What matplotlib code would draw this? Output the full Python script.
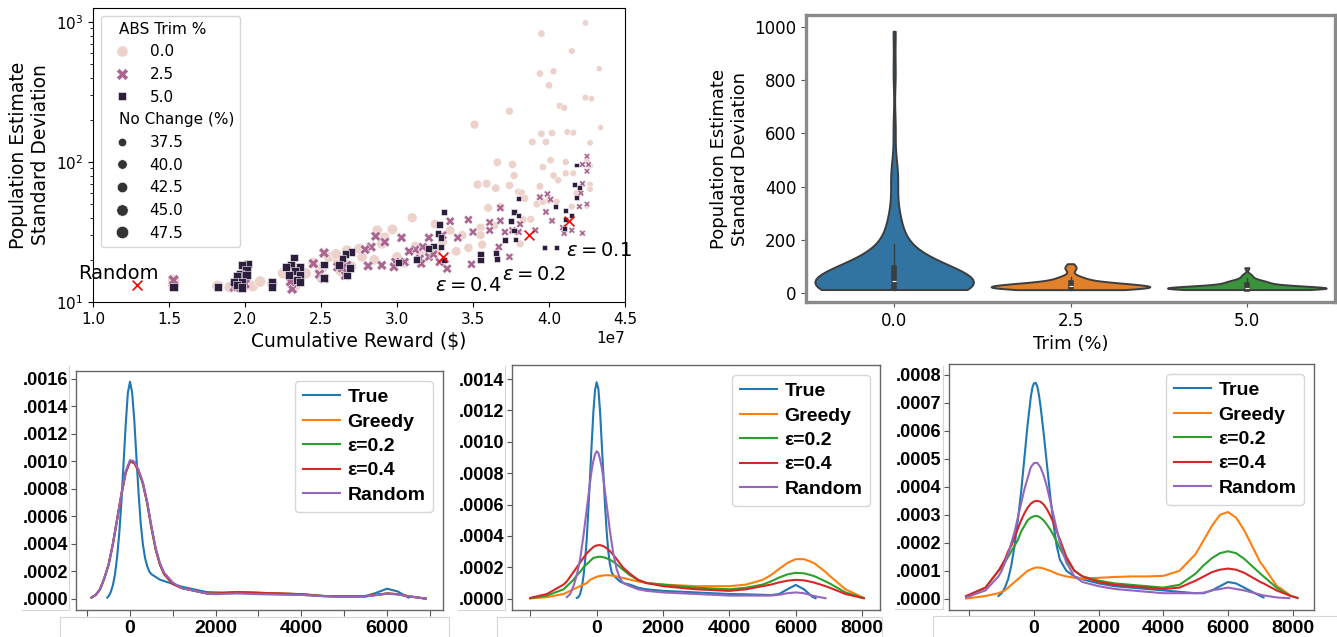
import numpy as np
import pandas as pd
import matplotlib
matplotlib.use("Agg")
import matplotlib.pyplot as plt
from matplotlib.lines import Line2D
from matplotlib.ticker import FuncFormatter, FixedLocator
from matplotlib.font_manager import FontProperties
import seaborn as sns

nan = float("nan")
W, H = 1337, 637

# ---------------- scatter data (reward in units of 1e7 $) ----------------
trim0_reward = [4.24, 3.95, 4.15, 3.94, 4.03, 4.00, 4.33, 4.24, 4.28, 3.74, 4.07, 4.10, 4.34, 3.51, 3.95, 4.02, 4.12, 4.16,
                3.89, 3.98, 4.27, 3.66, 3.76, 4.01, 4.11, 3.96, 4.25, 4.27, 3.77, 4.03, 4.11, 4.16, 4.06, 3.53, 3.59, 3.74,
                3.94, 4.27, 3.65, 4.27, 3.80, 3.82, 3.84, 4.18, 3.92, 3.96, 4.00, 4.05, 4.15, 4.25, 3.60, 3.68, 3.83, 3.88,
                3.10, 3.25, 3.64, 3.55, 2.87, 2.97, 3.35, 3.43, 3.55, 2.92, 3.81, 3.47, 3.39, 3.26, 3.56, 2.67, 2.77, 2.61,
                2.51, 2.63, 1.53, 1.53, 1.95, 2.00, 2.30, 2.35, 2.05, 1.82, 2.18, 2.45, 2.55, 2.65, 2.33, 1.97, 3.05, 3.15,
                2.85, 3.20, 2.75, 3.30, 2.70, 2.90, 3.00, 3.12, 2.60, 2.40, 2.10, 2.25, 1.90, 2.50]
trim0_std = [984, 826, 621, 428, 444, 353, 464, 288, 283, 231, 252, 244, 176, 185, 159, 161, 164, 162,
             139, 139, 137, 99.5, 96, 103, 100, 92, 104, 94, 80, 80, 83, 83, 74, 69, 70, 68,
             67, 69, 65, 64, 61, 60, 55, 60, 50, 52, 53, 52, 48, 48.5, 47, 48, 38.7, 39,
             40, 36, 35, 34, 32.5, 33, 32.5, 30, 30, 29, 26, 24.4, 23, 22.8, 25.7, 23.4, 21, 19.6,
             17.6, 16.6, 13.2, 14.3, 14, 16, 15, 17, 13, 13, 13.5, 19, 21, 19, 13, 15, 19, 22,
             20, 24, 24, 27, 18, 26, 21, 25, 22, 16, 14, 16, 12.8, 15]
trim0_nochange = [37.5, 39.0, 38.0, 39.0, 38.5, 39.0, 37.0, 38.0, 37.5, 40.0, 38.5, 38.5, 36.8, 42.0, 39.0, 39.0, 38.0, 38.0,
                  39.5, 39.0, 37.5, 41.0, 40.5, 39.0, 38.5, 39.0, 37.5, 37.5, 40.0, 39.0, 38.5, 38.0, 38.5, 42.0, 41.5, 40.5,
                  39.5, 37.5, 41.0, 37.5, 40.0, 40.0, 40.0, 38.0, 39.5, 39.0, 39.0, 38.5, 38.0, 37.5, 41.5, 41.0, 40.0, 40.0,
                  44.0, 43.0, 41.0, 42.0, 45.5, 45.5, 43.0, 42.5, 42.0, 45.0, 40.0, 42.5, 43.0, 43.5, 42.0, 46.0, 45.5, 46.0,
                  46.5, 46.0, 48.9, 48.5, 48.0, 48.0, 47.0, 47.0, 48.0, 48.5, 47.5, 46.5, 46.0, 46.0, 47.0, 48.0, 44.5, 44.0,
                  45.5, 44.0, 45.5, 43.5, 46.0, 45.0, 45.0, 44.0, 46.0, 47.0, 47.5, 47.0, 48.0, 46.5]

trim25_reward = [4.25, 4.22, 4.26, 4.22, 4.25, 3.94, 3.99, 4.01, 4.21, 4.20, 4.25, 3.98, 3.68, 3.61, 3.68, 3.47, 3.35, 3.81,
                 3.91, 3.76, 3.71, 3.80, 3.61, 3.50, 3.30, 3.21, 3.40, 4.10, 4.22, 4.15, 3.67, 3.74, 3.49, 3.33, 3.17, 3.12,
                 3.08, 3.15, 3.21, 3.24, 3.16, 3.28, 2.99, 3.05, 2.98, 2.90, 2.81, 3.03, 2.86, 2.83, 2.79, 2.92, 2.52, 2.67,
                 2.61, 2.66, 2.64, 2.45, 2.49, 2.52, 2.31, 1.93, 1.53, 4.09, 4.02, 2.00, 2.30, 1.95]
trim25_std = [110, 96, 96, 70, 86, 56, 59, 54, 60, 48, 50, 44, 47, 37, 38, 38.7, 37.7, 36,
              32.5, 32.5, 31.6, 31.6, 32.5, 31.6, 30, 28.8, 28.8, 31, 31, 32.5, 24.7, 21, 18.6, 17.3, 24.7, 23.7,
              23, 20.4, 21, 21.9, 18.8, 19.3, 19.3, 19.3, 17.8, 18.3, 18.1, 28.8, 29.5, 24.7, 23.7, 26.8, 22.4, 18.3,
              17.8, 15.5, 17.5, 18.8, 15.8, 14.7, 12.4, 12.8, 14.3, 34, 38, 13.5, 14, 13]
trim25_nochange = [37.5, 38, 37.5, 38, 37.5, 39.5, 39, 39, 38, 38, 37.5, 39, 41, 41.5, 41, 42.5, 43, 40,
                   39.5, 40.5, 40.5, 40, 41.5, 42, 43.5, 44, 43, 38.5, 38, 38, 41, 40.5, 42.5, 43.5, 44, 44,
                   44.5, 44, 44, 43.5, 44, 43.5, 45, 44.5, 45, 45, 45.5, 44.5, 45.5, 45.5, 45.5, 45, 46.5, 46,
                   46, 46, 46, 46.5, 46.5, 46.5, 47, 48, 48.5, 38.5, 39, 48, 47, 48]

trim5_reward = [4.18, 4.17, 4.20, 4.18, 3.80, 4.04, 4.11, 3.77, 3.31, 3.80, 3.75, 4.11, 4.15, 3.77, 3.71, 3.78, 3.28, 3.27,
                3.29, 3.24, 3.29, 3.97, 4.05, 4.10, 3.65, 3.55, 3.66, 3.55, 3.21, 3.13, 3.31, 3.01, 2.70, 2.66, 2.64, 2.62,
                2.69, 2.67, 2.52, 2.52, 2.32, 2.30, 2.36, 2.27, 2.33, 2.29, 2.36, 2.34, 2.36, 2.18, 2.18, 2.02, 1.98, 2.01,
                1.97, 2.01, 1.95, 1.93, 1.98, 1.95, 1.98, 1.82, 1.53]
trim5_std = [95, 69, 66, 56, 55, 48, 45, 44, 44, 41.6, 38, 39, 41.6, 32.5, 27.6, 28, 36, 31,
             29, 25.1, 24.7, 24.4, 24.4, 33.4, 22.5, 22.1, 20.4, 20, 24, 20, 19.9, 19.1, 22.8, 22.1, 20.4, 18.3,
             17.5, 15.5, 18.5, 14.8, 20.8, 18.3, 17.8, 17.8, 16.6, 15.5, 15.5, 14.4, 13.9, 13.9, 12.7, 18.6, 18.3, 17,
             15.8, 15.5, 15.2, 13.9, 13.9, 13.2, 12.7, 12.8, 12.8]
trim5_nochange = [38, 38, 38, 38, 40, 38.5, 38.5, 40, 43, 40, 40.5, 38.5, 38, 40, 40.5, 40, 43.5, 43.5,
                  43.5, 43.5, 43.5, 39, 38.5, 38.5, 41, 42, 41, 42, 44, 44, 43, 45, 46, 46, 46, 46,
                  46, 46, 46.5, 46.5, 47, 47, 47, 47, 47, 47, 47, 47, 47, 47.5, 47.5, 48, 48, 48,
                  48, 48, 48, 48, 48, 48, 48, 48.5, 48.5]

trim_levels = [0.0, 2.5, 5.0]

# policy markers
policy_names = ["Random", r"$\varepsilon = 0.4$", r"$\varepsilon = 0.2$", r"$\varepsilon = 0.1$"]
policy_reward = [1.29, 3.30, 3.87, 4.13]
policy_std = [13.2, 21.0, 30.1, 37.9]
label_reward = [0.905, 3.25, 3.69, 4.11]
label_std = [16.1, 13.2, 15.6, 23.5]

# ---------------- KDE curves ----------------
series_names = ["True", "Greedy", "ε=0.2", "ε=0.4", "Random"]
series_colors = ["#1f77b4", "#ff7f0e", "#2ca02c", "#d62728", "#9467bd"]

# panel 1
p1_true_x = [-530, -500, -450, -400, -350, -300, -250, -200, -150, -100, -50, 0, 50, 100, 150, 200, 250, 300, 350, 400,
             450, 500, 600, 700, 800, 1000, 1200, 1500, 1800, 2000, 2500, 3000, 3500, 4000, 4500, 5000, 5500, 5750,
             6000, 6250, 6500]
p1_true = [0.00001, 0.00002, 0.00005, 0.0001, 0.00018, 0.00031, 0.00048, 0.00071, 0.00099, 0.00127, 0.0015, 0.00158,
           0.0015, 0.0013, 0.00103, 0.00077, 0.00055, 0.0004, 0.0003, 0.00024, 0.0002, 0.00018, 0.00016, 0.00014,
           0.00013, 0.00011, 0.00009, 0.00007, 0.00005, 0.000048, 0.000045, 0.00004, 0.000035, 0.00003, 0.000022,
           0.000018, 0.000022, 0.000045, 0.000075, 0.000055, 0.00001]
g1_x = [-900, -800, -700, -600, -500, -400, -300, -200, -100, 0, 100, 200, 300, 400, 500, 600, 700, 800, 1000, 1200,
        1500, 1800, 2000, 2500, 3000, 3500, 4000, 4500, 5000, 5500, 5750, 6000, 6250, 6500, 6900]
p1_greedy = [0.00001, 0.00003, 0.00007, 0.00015, 0.00025, 0.0004, 0.00058, 0.00076, 0.00092, 0.001, 0.00099, 0.00093,
             0.00084, 0.0007, 0.00052, 0.00036, 0.00025, 0.00018, 0.00011, 0.00008, 0.00006, 0.00004, 0.00004, 0.00005,
             0.000045, 0.00004, 0.000035, 0.000022, 0.000018, 0.00002, 0.00003, 0.00004, 0.000035, 0.00002, 0.000003]
p1_eps02 = [0.00001, 0.00003, 0.00007, 0.00015, 0.00025, 0.0004, 0.00058, 0.00076, 0.00092, 0.001, 0.00099, 0.00093,
            0.00084, 0.0007, 0.00052, 0.00036, 0.00025, 0.00018, 0.00011, 0.00008, 0.00006, 0.00004, 0.00004, 0.00005,
            0.000045, 0.00004, 0.000035, 0.000022, 0.000018, 0.00002, 0.00003, 0.00004, 0.000035, 0.00002, 0.000003]
p1_eps04 = [0.00001, 0.00003, 0.00007, 0.00015, 0.00025, 0.0004, 0.00058, 0.00076, 0.00092, 0.001, 0.00099, 0.00093,
            0.00084, 0.0007, 0.00052, 0.00036, 0.00025, 0.00018, 0.00011, 0.00008, 0.00006, 0.00004, 0.00004, 0.00005,
            0.000045, 0.00004, 0.000035, 0.000022, 0.000018, 0.00002, 0.00003, 0.00004, 0.000035, 0.00002, 0.000003]
p1_random = [0.00001, 0.00003, 0.00007, 0.00015, 0.00025, 0.0004, 0.00058, 0.00077, 0.00093, 0.00101, 0.001, 0.00094,
             0.00085, 0.00071, 0.00053, 0.00037, 0.00026, 0.00019, 0.00012, 0.00008, 0.00006, 0.00004, 0.000035, 0.00004,
             0.000035, 0.000032, 0.00003, 0.00002, 0.000015, 0.000018, 0.000028, 0.000038, 0.000033, 0.00002, 0.000003]

# panel 2
p2_true_x = [-600, -550, -500, -450, -400, -350, -300, -250, -200, -150, -100, -50, 0, 50, 100, 150, 200, 250, 300,
             350, 400, 450, 500, 600, 700, 800, 1000, 1250, 1500, 2000, 2500, 3000, 3500, 4000, 4500, 5000, 5250, 5500,
             5750, 6000, 6250, 6500, 6600]
p2_true = [0.000005, 0.00001, 0.00003, 0.00007, 0.00014, 0.00024, 0.00038, 0.00057, 0.00078, 0.00099, 0.00119, 0.00133,
           0.00138, 0.00134, 0.0012, 0.001, 0.0008, 0.0006, 0.00043, 0.0003, 0.00022, 0.00017, 0.00015, 0.00013,
           0.00011, 0.0001, 0.00009, 0.00007, 0.00006, 0.00005, 0.000045, 0.00004, 0.000035, 0.00003, 0.000028,
           0.000025, 0.000023, 0.00003, 0.00006, 0.000088, 0.00006, 0.000012, 0.000003]
p2_random_x = [-900, -800, -700, -600, -500, -400, -300, -200, -150, -100, -50, 0, 50, 100, 150, 200, 300, 400, 500,
               600, 700, 800, 1000, 1250, 1500, 2000, 2500, 3000, 3500, 4000, 4500, 5000, 5250, 5500, 5750, 6000, 6250,
               6500, 6600, 6900]
p2_random = [0.00001, 0.00003, 0.00008, 0.00015, 0.00025, 0.0004, 0.00057, 0.00074, 0.00082, 0.00088, 0.00092,
             0.00094, 0.00093, 0.00089, 0.00084, 0.00077, 0.0006, 0.00043, 0.00029, 0.00019, 0.00013, 0.0001, 0.00008,
             0.00006, 0.00005, 0.00004, 0.000035, 0.00003, 0.000025, 0.00002, 0.00002, 0.00002, 0.00002, 0.000025,
             0.000035, 0.00004, 0.000035, 0.00002, 0.000015, 0.000003]
g2_x = [-2000, -1500, -1000, -900, -800, -700, -600, -500, -400, -300, -200, -100, 0, 100, 200, 300, 400, 500, 600, 700,
        800, 1000, 1250, 1500, 2000, 2500, 3000, 3500, 4000, 4500, 5000, 5250, 5500, 5750, 6000, 6250, 6500, 6600, 6900,
        7000, 7500, 8050]
p2_greedy = [0.000002, 0.00001, 0.00003, 0.00004, 0.00005, 0.00006, 0.00007, 0.00008, 0.00009, 0.0001, 0.00012, 0.00013,
             0.00014, 0.000145, 0.000148, 0.00015, 0.000149, 0.000146, 0.000142, 0.000137, 0.000132, 0.000122, 0.00011,
             0.0001, 0.00009, 0.000085, 0.00008, 0.00008, 0.00008, 0.00009, 0.00012, 0.00015, 0.00019, 0.000228,
             0.000252, 0.000252, 0.000232, 0.00022, 0.00017, 0.00015, 0.00006, 0.000005]
p2_eps02 = [0.000003, 0.00002, 0.00006, 0.00008, 0.0001, 0.00012, 0.00015, 0.00017, 0.0002, 0.00022, 0.00024, 0.00026,
            0.000265, 0.000268, 0.000265, 0.000258, 0.000248, 0.000236, 0.00022, 0.000202, 0.000184, 0.00015, 0.00012,
            0.0001, 0.00009, 0.00008, 0.00007, 0.000065, 0.00006, 0.00007, 0.00009, 0.00011, 0.000135, 0.000155,
            0.000165, 0.000162, 0.000148, 0.00014, 0.00011, 0.0001, 0.00004, 0.000004]
p2_eps04 = [0.000005, 0.00003, 0.00009, 0.00011, 0.00014, 0.00017, 0.0002, 0.00023, 0.00026, 0.00029, 0.00031, 0.00033,
            0.00034, 0.000342, 0.000335, 0.000322, 0.000303, 0.00028, 0.000253, 0.000225, 0.000198, 0.00016, 0.00012,
            0.0001, 0.00008, 0.00007, 0.00006, 0.000055, 0.00005, 0.00006, 0.00008, 0.00009, 0.000104, 0.000115,
            0.00012, 0.000117, 0.000106, 0.0001, 0.00008, 0.000072, 0.00003, 0.000003]

# panel 3
p3_true_x = [-1100, -1000, -900, -800, -700, -600, -500, -400, -300, -200, -100, -50, 0, 50, 100, 150, 200, 300, 400,
             500, 600, 700, 800, 900, 1000, 1250, 1500, 2000, 2500, 3000, 3500, 4000, 4500, 5000, 5250, 5500, 5750,
             6000, 6250, 6500, 7000, 7100]
p3_true = [0.00001, 0.00002, 0.00004, 0.00007, 0.00012, 0.00019, 0.00028, 0.00038, 0.0005, 0.00062, 0.00072, 0.000755,
           0.00077, 0.000772, 0.00076, 0.00073, 0.00069, 0.00059, 0.00048, 0.00037, 0.00027, 0.00019, 0.00014, 0.00012,
           0.0001, 0.00008, 0.00007, 0.000055, 0.000045, 0.00004, 0.000035, 0.00003, 0.000025, 0.00002, 0.00002,
           0.00003, 0.000045, 0.00006, 0.000055, 0.00004, 0.00001, 0.000005]
g3_x = [-2100, -1500, -1100, -1000, -900, -800, -700, -600, -500, -400, -300, -200, -100, 0, 100, 200, 300, 400, 500,
        600, 700, 800, 1000, 1250, 1500, 2000, 2500, 3000, 3500, 4000, 4500, 5000, 5250, 5500, 5750, 6000, 6250, 6500,
        7000, 7100, 7500, 7900, 8150]
p3_greedy = [0.000001, 0.00001, 0.00002, 0.000025, 0.00003, 0.00004, 0.00005, 0.00006, 0.00007, 0.00008, 0.00009,
             0.0001, 0.000105, 0.00011, 0.000112, 0.000111, 0.000108, 0.000104, 0.0001, 0.000095, 0.00009, 0.000086,
             0.00008, 0.000075, 0.000072, 0.000075, 0.000078, 0.00008, 0.00008, 0.000082, 0.0001, 0.00016, 0.00021,
             0.00026, 0.0003, 0.00031, 0.00029, 0.000245, 0.00013, 0.000115, 0.000047, 0.000015, nan]
p3_eps02 = [0.000008, 0.00004, 0.0001, 0.00011, 0.00013, 0.00015, 0.00017, 0.00019, 0.00021, 0.00024, 0.00026, 0.00028,
            0.00029, 0.000295, 0.000296, 0.00029, 0.00028, 0.000265, 0.000248, 0.000228, 0.000205, 0.00018, 0.00014,
            0.0001, 0.00008, 0.000065, 0.000055, 0.00005, 0.000045, 0.00004, 0.00005, 0.00009, 0.00012, 0.000145,
            0.000163, 0.00017, 0.000163, 0.000143, 0.00009, 0.00008, 0.00004, 0.000012, 0.000003]
p3_eps04 = [0.00001, 0.00004, 0.0001, 0.00012, 0.00014, 0.00017, 0.00019, 0.00022, 0.00025, 0.00028, 0.000305, 0.000325,
            0.00034, 0.000348, 0.00035, 0.000347, 0.000337, 0.00032, 0.000298, 0.000272, 0.000243, 0.000212, 0.00015,
            0.0001, 0.00008, 0.00006, 0.00005, 0.000045, 0.00004, 0.000035, 0.00004, 0.000065, 0.00008, 0.000095,
            0.000104, 0.000108, 0.000104, 0.000093, 0.00006, 0.000055, 0.00003, 0.000012, 0.000003]
p3_random = [0.000005, 0.00003, 0.00008, 0.0001, 0.00013, 0.00016, 0.0002, 0.00024, 0.00029, 0.00034, 0.00039, 0.00043,
             0.00047, 0.000485, 0.000486, 0.00047, 0.00044, 0.0004, 0.00035, 0.0003, 0.00025, 0.0002, 0.00013, 0.00008,
             0.00006, 0.000045, 0.000035, 0.00003, 0.000025, 0.00002, 0.00002, 0.00002, 0.000022, 0.00003, 0.000035,
             0.00004, 0.000035, 0.00003, 0.000015, 0.000012, 0.000005, 0.000002, nan]

# ---------------- figure ----------------
fig = plt.figure(figsize=(W / 100, H / 100), dpi=100)


def rect(l, r, t, b):
    return [l / W, 1 - b / H, (r - l) / W, (b - t) / H]


plt.rcParams["legend.fontsize"] = 11
plt.rcParams["legend.labelspacing"] = 0.5

# ---- panel A: scatter ----
axA = fig.add_axes(rect(93, 625, 8, 302))
df = pd.DataFrame({
    "reward": np.array(trim0_reward + trim25_reward + trim5_reward) * 1e7,
    "std": trim0_std + trim25_std + trim5_std,
    "ABS Trim %": [trim_levels[0]] * len(trim0_reward) + [trim_levels[1]] * len(trim25_reward)
                  + [trim_levels[2]] * len(trim5_reward),
    "No Change (%)": trim0_nochange + trim25_nochange + trim5_nochange,
})
sns.scatterplot(data=df, x="reward", y="std", hue="ABS Trim %", style="ABS Trim %",
                size="No Change (%)", ax=axA)
axA.set_yscale("log")
axA.set_xlim(1.0e7, 4.5e7)
axA.set_ylim(10, 1259)
axA.scatter(np.array(policy_reward) * 1e7, policy_std, marker="x", color="red", s=50, lw=1.2, zorder=5)
for name, xr, ys in zip(policy_names, label_reward, label_std):
    axA.text(xr * 1e7, ys, name, fontsize=14, ha="left", va="center", zorder=6)
axA.set_xlabel("Cumulative Reward ($)", fontsize=13.5)
axA.set_ylabel("Population Estimate\nStandard Deviation", fontsize=13.5)
axA.tick_params(labelsize=11)
axA.xaxis.get_offset_text().set_fontsize(11)

leg = axA.get_legend()
if leg is not None:
    leg.set_loc("upper left")
    subtitles = ("ABS Trim %", "No Change (%)")
    try:
        for col in leg._legend_handle_box.get_children():
            for row in col.get_children():
                ch = row.get_children()
                if len(ch) == 2:
                    da, ta = ch
                    if ta.get_children()[0].get_text() in subtitles:
                        da.set_width(0)
    except Exception:
        pass
    legend_ms = {"0.0": 8.0, "2.5": 8.0, "5.0": 7.8, "37.5": 6.0, "40.0": 6.8, "42.5": 7.5, "45.0": 8.2, "47.5": 8.9}
    for h, t in zip(leg.legend_handles, leg.get_texts()):
        ms = legend_ms.get(t.get_text())
        if ms is None:
            continue
        if hasattr(h, "set_markersize"):
            h.set_markersize(ms)
        elif hasattr(h, "set_sizes"):
            h.set_sizes([ms ** 2])

# ---- panel B: violin ----
axB = fig.add_axes(rect(806, 1335, 15, 302))
vdf = pd.DataFrame({
    "trim": ["0.0"] * len(trim0_std) + ["2.5"] * len(trim25_std) + ["5.0"] * len(trim5_std),
    "std": trim0_std + trim25_std + trim5_std,
})
vpal = ["#1f77b4", "#ff7f0e", "#2ca02c"]
try:
    sns.violinplot(data=vdf, x="trim", y="std", hue="trim", palette=vpal, cut=0, density_norm="width",
                   width=0.9, inner="box", linewidth=1.4, legend=False, ax=axB,
                   inner_kws=dict(box_width=4, whis_width=1.0))
except TypeError:
    sns.violinplot(data=vdf, x="trim", y="std", palette=vpal, cut=0, scale="width",
                   width=0.9, inner="box", linewidth=1.4, ax=axB)
axB.set_xlim(-0.5, 2.5)
axB.set_ylim(-34, 1045)
axB.set_yticks([0, 200, 400, 600, 800, 1000])
axB.set_xlabel("Trim (%)", fontsize=13)
axB.set_ylabel("Population Estimate\nStandard Deviation", fontsize=13)
axB.tick_params(labelsize=12, color="#555555", length=3.5)
for s in axB.spines.values():
    s.set_color("#8a8a8a")
    s.set_linewidth(2.4)

# ---- bottom KDE panels ----
bold = dict(family="Liberation Sans", weight="bold")
panels = [
    (rect(76, 443, 371, 610),
     [(p1_true_x, p1_true), (g1_x, p1_greedy), (g1_x, p1_eps02), (g1_x, p1_eps04), (g1_x, p1_random)],
     (-1261, 7308), (-0.00008, 0.001658), [v * 0.0002 for v in range(9)],
     [-1000, 0, 1000, 2000, 3000, 4000, 5000, 6000, 7000], ["", "0", "", "2000", "", "4000", "", "6000", ""]),
    (rect(512, 880, 365, 610),
     [(p2_true_x, p2_true), (g2_x, p2_greedy), (g2_x, p2_eps02), (g2_x, p2_eps04), (p2_random_x, p2_random)],
     (-2553, 8541), (-0.000072, 0.00149), [v * 0.0002 for v in range(8)],
     [-2000, 0, 2000, 4000, 6000, 8000], ["", "0", "2000", "4000", "6000", "8000"]),
    (rect(949, 1314, 364, 610),
     [(p3_true_x, p3_true), (g3_x, p3_greedy), (g3_x, p3_eps02), (g3_x, p3_eps04), (g3_x, p3_random)],
     (-2629, 8660), (-0.00004, 0.000839), [v * 0.0001 for v in range(9)],
     [-2000, 0, 2000, 4000, 6000, 8000], ["", "0", "2000", "4000", "6000", "8000"]),
]


def dens_fmt(v, p):
    return ("%.4f" % v).replace("0.", ".", 1)


for r, curves, xl, yl, yt, xt, xtl in panels:
    ax = fig.add_axes(r)
    for name, col, (cx, cy) in zip(series_names, series_colors, curves):
        ax.plot(cx, cy, color=col, lw=1.5, label=name, solid_joinstyle="round")
    ax.set_xlim(*xl)
    ax.set_ylim(*yl)
    ax.yaxis.set_major_locator(FixedLocator(yt))
    ax.yaxis.set_major_formatter(FuncFormatter(dens_fmt))
    ax.set_xticks(xt)
    ax.set_xticklabels(xtl)
    for lab in ax.get_yticklabels():
        lab.set_fontproperties(FontProperties(size=13, **bold))
    for lab in ax.get_xticklabels():
        lab.set_fontproperties(FontProperties(size=14, **bold))
    ax.tick_params(axis="y", length=3.5, pad=2, color="#555555")
    ax.tick_params(axis="x", length=4, pad=3, color="#555555")
    for s in ax.spines.values():
        s.set_color("#666666")
        s.set_linewidth(1.0)
    ax.legend(loc="upper right", prop=FontProperties(size=14, **bold),
              handlelength=1.9, handletextpad=0.4, labelspacing=0.35, borderpad=0.4)


# faint boxes around pasted tick-label strips
def fline(xs, ys):
    fig.add_artist(Line2D([x / W for x in xs], [1 - y / H for y in ys], transform=fig.transFigure,
                          color="#d6d6d6", lw=0.8))


fline([22, 69, 69], [610, 610, 366])
fline([60, 60, 449, 449], [637, 617, 617, 637])
fline([458, 505, 505], [610, 610, 366])
fline([497, 497, 882, 882], [637, 617, 617, 637])
fline([895, 943, 943], [609, 609, 366])
fline([933, 933, 1337], [637, 616, 616])

fig.savefig("out.png", dpi=100)
